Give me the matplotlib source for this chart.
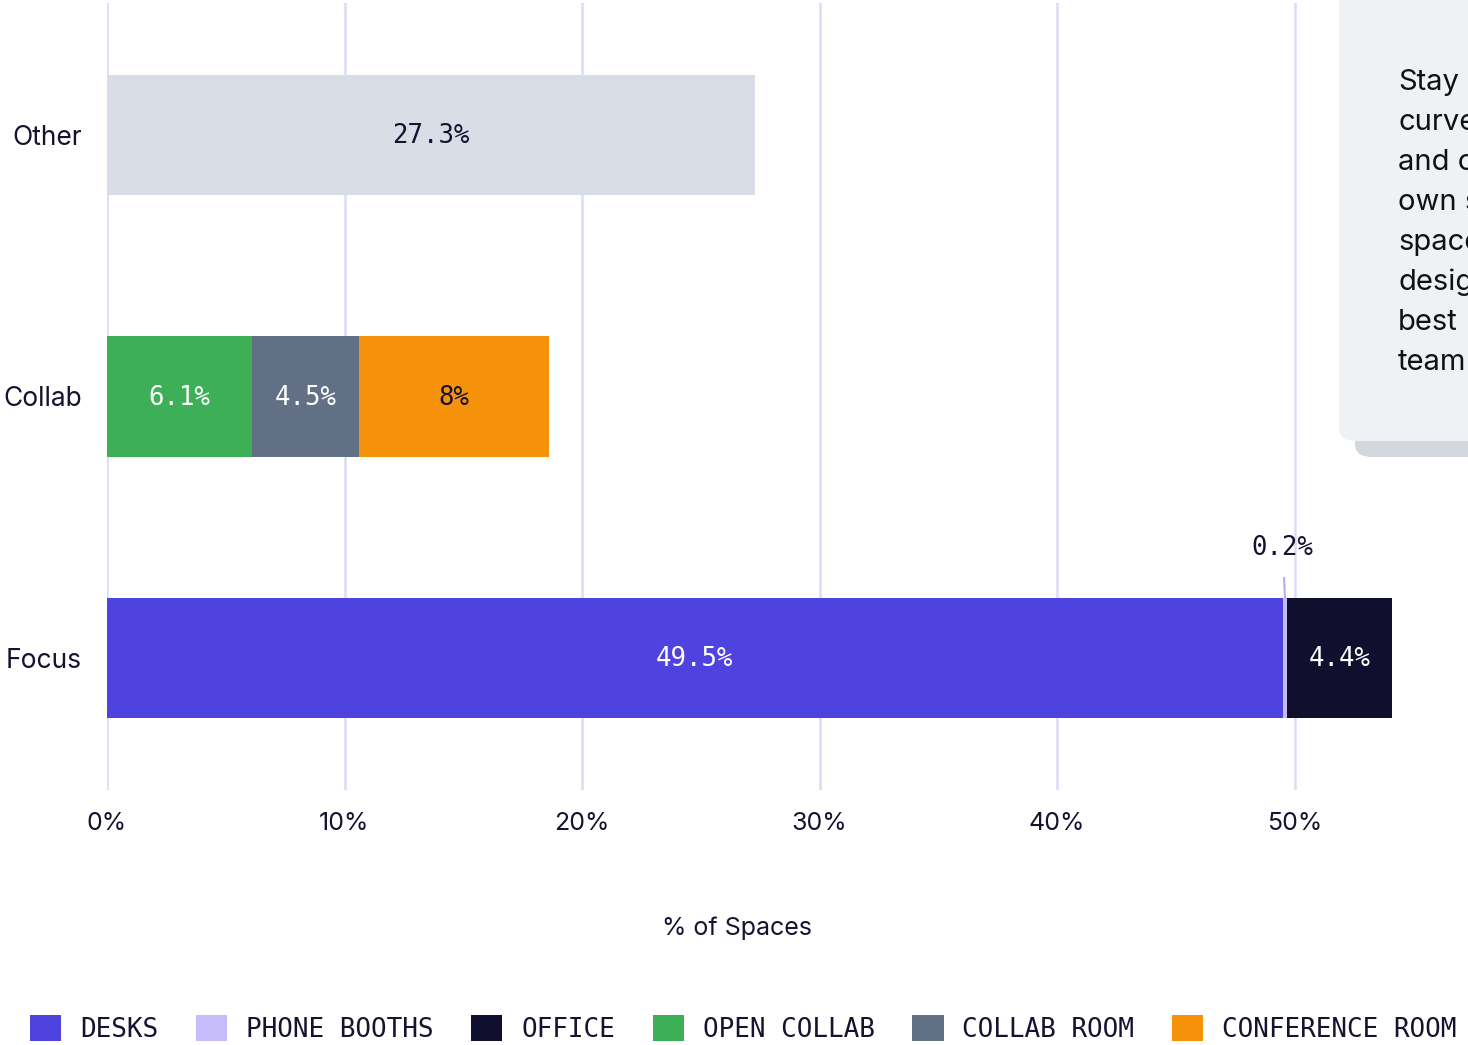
import numpy as np
import matplotlib.pyplot as plt
from matplotlib.patches import FancyBboxPatch

# data
categories = ['Focus', 'Collab', 'Other']
series_names = ['DESKS', 'PHONE BOOTHS', 'OFFICE', 'OPEN COLLAB', 'COLLAB ROOM',
                'CONFERENCE ROOM', 'OTHER']
desks = [49.5, 0, 0]
phone_booths = [0.2, 0, 0]
office = [4.4, 0, 0]
open_collab = [0, 6.1, 0]
collab_room = [0, 4.5, 0]
conference_room = [0, 8.0, 0]
other = [0, 0, 27.3]
x_ticks = [0, 10, 20, 30, 40, 50]
x_tick_labels = ['0%', '10%', '20%', '30%', '40%', '50%']
card_lines = ['Stay', 'curve', 'and c', 'own s', 'space', 'desig', 'best', 'team']

series = [desks, phone_booths, office, open_collab, collab_room, conference_room, other]
colors = ['#4f43e0', '#c7bcfb', '#10102e', '#3daf57', '#627086', '#f5920a', '#d8dde6']
label_colors = ['white', '#15132f', 'white', 'white', 'white', '#15132f', '#15132f']

DARK = '#15132f'
SANS = ['Inter', 'DejaVu Sans']
MONO = ['DejaVu Sans Mono']

fig = plt.figure(figsize=(14.68, 10.45), dpi=100)
ax = fig.add_axes([107 / 1468, 255 / 1045, 1 - 107 / 1468, 787 / 1045])

y = np.arange(len(categories))
left = np.zeros(len(categories))
containers = []
for name, vals, col, lcol in zip(series_names, series, colors, label_colors):
    vals = np.array(vals, dtype=float)
    bars = ax.barh(y, vals, left=left, height=0.46, color=col, label=name, zorder=3)
    containers.append(bars)
    for i, v in enumerate(vals):
        if v <= 0:
            continue
        cx = left[i] + v / 2
        txt = f'{v:g}%'
        if v < 1:
            # tiny segment: label above with a leader line
            ax.annotate(txt, xy=(cx, y[i] + 0.23), xytext=(cx - 0.1, y[i] + 0.42),
                        ha='center', va='center', fontsize=18.5, family=MONO, color=DARK,
                        arrowprops=dict(arrowstyle='-', color='#b5acf5', lw=1.5,
                                        shrinkA=10, shrinkB=0))
        else:
            ax.text(cx, y[i] - 0.005, txt, ha='center', va='center', fontsize=18.5,
                    family=MONO, color=lcol, zorder=4)
    left += vals

ax.set_xlim(0, (1468 - 107) / 23.75)
ax.set_ylim(-0.505, 2.505)
ax.set_xticks(x_ticks)
ax.set_xticklabels(x_tick_labels, fontsize=18, family=SANS, color=DARK)
ax.set_yticks(y)
ax.set_yticklabels(categories, fontsize=19, family=SANS, color=DARK)
ax.tick_params(axis='both', length=0)
ax.tick_params(axis='x', pad=16)
ax.tick_params(axis='y', pad=18)
ax.grid(axis='x', color='#dcdaf7', lw=1.8, zorder=0)
ax.set_axisbelow(True)
for s in ax.spines.values():
    s.set_visible(False)

ax.set_xlabel('% of Spaces', fontsize=18, family=SANS, color=DARK)
ax.xaxis.set_label_coords((737 - 107) / (1468 - 107), -(916 - 790) / 787)

# legend
fig.legend(handles=containers[:6], labels=series_names[:6], ncol=6, frameon=False,
           loc='center left', bbox_to_anchor=(30 / 1468, 1 - 1029 / 1045),
           prop={'family': MONO, 'size': 18.7}, labelcolor=DARK,
           handlelength=1.2, handleheight=1.15, handletextpad=0.72,
           columnspacing=1.46, borderpad=0, borderaxespad=0)

# info card on the right, partly off the figure
W, H = 1468, 1045
shadow = FancyBboxPatch((1355 / W, 1 - 457 / H), 200 / W, 440 / H,
                        boxstyle='round,pad=0,rounding_size=0.012',
                        transform=fig.transFigure, facecolor='#d3d7de',
                        edgecolor='none', zorder=5)
card = FancyBboxPatch((1339 / W, 1 - 441 / H), 200 / W, 470 / H,
                      boxstyle='round,pad=0,rounding_size=0.012',
                      transform=fig.transFigure, facecolor='#eff2f5',
                      edgecolor='none', zorder=6)
fig.patches.extend([shadow, card])
for k, line in enumerate(card_lines):
    fig.text(1398 / W, 1 - (82 + 40 * k) / H, line, fontsize=21, family=SANS,
             color='#111111', va='center', ha='left', zorder=7)

fig.savefig('out.png', dpi=100)
